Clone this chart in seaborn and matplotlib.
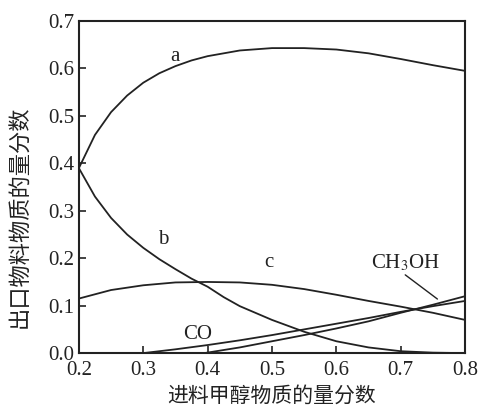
import numpy as np
import pandas as pd
import matplotlib
matplotlib.use("Agg")
import matplotlib.pyplot as plt
import seaborn as sns

# 读图得到的数据
x_a = [0.2, 0.225, 0.25, 0.275, 0.3, 0.325, 0.35, 0.375, 0.4, 0.45, 0.5, 0.55, 0.6, 0.65, 0.7, 0.75, 0.8]
y_a = [0.39, 0.46, 0.508, 0.543, 0.57, 0.59, 0.605, 0.617, 0.626, 0.638, 0.643, 0.643, 0.64, 0.632, 0.62, 0.607, 0.595]

x_b = [0.2, 0.225, 0.25, 0.275, 0.3, 0.325, 0.35, 0.375, 0.4, 0.425, 0.45, 0.5, 0.55, 0.6, 0.65, 0.7, 0.75, 0.8]
y_b = [0.39, 0.33, 0.285, 0.25, 0.222, 0.198, 0.177, 0.157, 0.14, 0.118, 0.099, 0.07, 0.045, 0.025, 0.012, 0.004, 0.001, 0.0]

x_c = [0.2, 0.25, 0.3, 0.35, 0.4, 0.45, 0.5, 0.55, 0.6, 0.65, 0.7, 0.75, 0.8]
y_c = [0.115, 0.133, 0.143, 0.149, 0.15, 0.149, 0.144, 0.135, 0.123, 0.11, 0.098, 0.085, 0.07]

x_co = [0.3, 0.35, 0.4, 0.45, 0.5, 0.55, 0.6, 0.65, 0.7, 0.75, 0.8]
y_co = [0.0, 0.008, 0.017, 0.027, 0.038, 0.05, 0.062, 0.074, 0.087, 0.099, 0.11]

x_me = [0.395, 0.45, 0.5, 0.55, 0.6, 0.65, 0.7, 0.75, 0.8]
y_me = [0.0, 0.012, 0.025, 0.038, 0.052, 0.067, 0.085, 0.102, 0.12]

x_ticks = [0.2, 0.3, 0.4, 0.5, 0.6, 0.7, 0.8]
y_ticks = [0.0, 0.1, 0.2, 0.3, 0.4, 0.5, 0.6, 0.7]

sns.set_style("ticks")
plt.rcParams['font.family'] = ['Liberation Serif', 'Noto Sans CJK SC']
plt.rcParams['mathtext.fontset'] = 'stix'

fig = plt.figure(figsize=(4.78, 4.13), dpi=100)
ax = fig.add_axes([0.165, 0.145, 0.808, 0.804])

for xs, ys in [(x_a, y_a), (x_b, y_b), (x_c, y_c), (x_co, y_co), (x_me, y_me)]:
    sns.lineplot(x=xs, y=ys, ax=ax, color='#222222', linewidth=1.3)

ax.set_xlim(0.2, 0.8)
ax.set_ylim(0.0, 0.7)
ax.set_xticks(x_ticks)
ax.set_yticks(y_ticks)
ax.set_xticklabels([f"{v:.1f}" for v in x_ticks])
ax.set_yticklabels([f"{v:.1f}" for v in y_ticks])
ax.tick_params(direction='in', length=5, width=1.2, labelsize=15, colors='#222222')
ax.tick_params(axis='x', pad=6)
for s in ax.spines.values():
    s.set_visible(True)
    s.set_linewidth(1.5)
    s.set_color('#222222')

cjk = ['Noto Sans CJK SC', 'DejaVu Sans']
ax.set_xlabel("进料甲醇物质的量分数", family=cjk, fontsize=15, color='#222222', labelpad=3)
ax.set_ylabel("出口物料物质的量分数", family=cjk, fontsize=16, color='#222222')
ax.yaxis.set_label_coords(-0.122, 0.41)

# 曲线标注
lab = dict(fontsize=15, color='#222222', ha='center', va='center')
ax.text(0.35, 0.625, "a", **lab)
ax.text(0.331, 0.24, "b", **lab)
ax.text(0.495, 0.19, "c", **lab)
ax.text(0.385, 0.04, "CO", **lab)
ax.text(0.707, 0.19, r"CH$_3$OH", **lab)
ax.plot([0.707, 0.757], [0.165, 0.114], color='#222222', linewidth=1.0)

fig.savefig("out.png", dpi=100)
